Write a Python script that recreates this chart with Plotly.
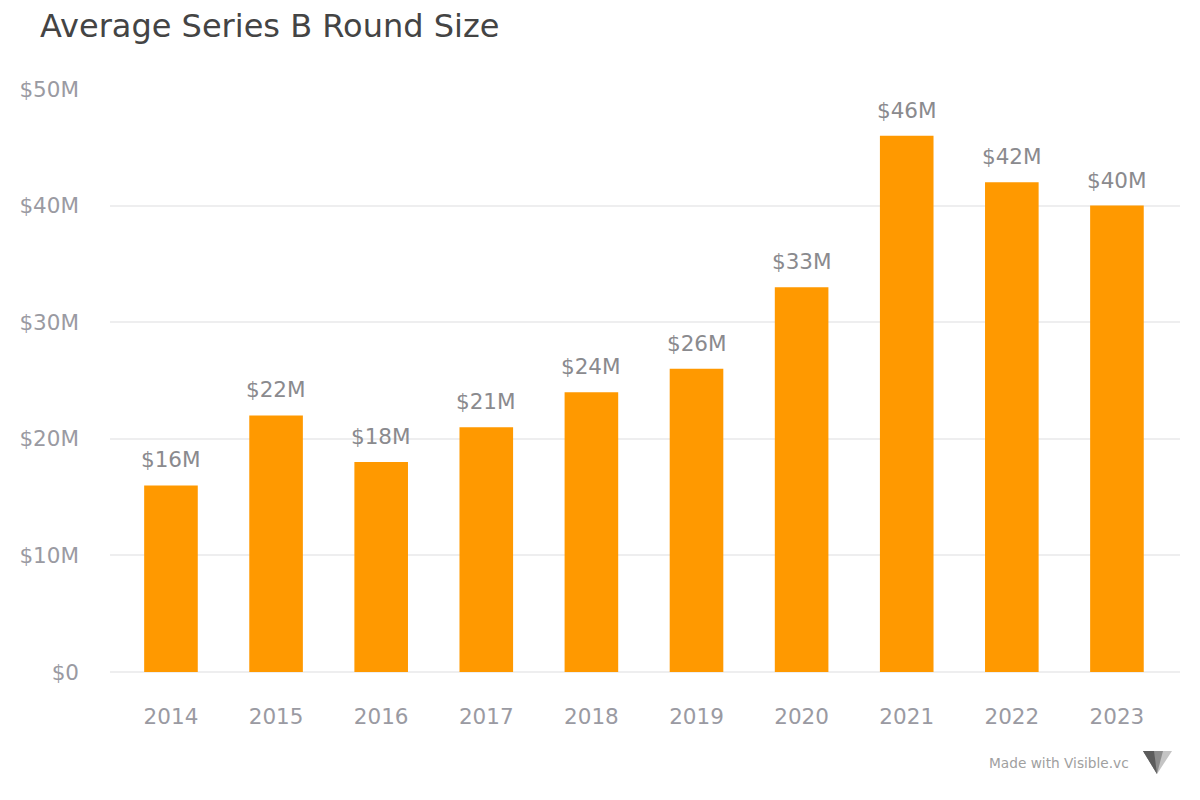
import plotly.graph_objects as go

years = ["2014", "2015", "2016", "2017", "2018", "2019", "2020", "2021", "2022", "2023"]
values = [16, 22, 18, 21, 24, 26, 33, 46, 42, 40]
ytick_vals = [0, 10, 20, 30, 40, 50]
ytick_text = ["$0", "$10M", "$20M", "$30M", "$40M", "$50M"]

FONT = "DejaVu Sans"
OFF = 8  # page body margin

W, H = 1184, 784
L, R, T, B = 110 - OFF, 20 - OFF, 89 - OFF, 128 - OFF
PW, PH = W - L - R, H - T - B

fig = go.Figure()
fig.add_trace(go.Bar(
    x=years, y=values,
    marker=dict(color="#ff9900", line=dict(width=0)),
    width=0.51,
    hoverinfo="skip",
))

# value labels; category axis positions referenced by index
for i, v in enumerate(values):
    fig.add_annotation(
        x=i, y=v, xref="x", yref="y",
        text=f"${v}M", showarrow=False,
        yanchor="bottom", yshift=11,
        font=dict(family=FONT, size=21.5, color="#8a8a8e"),
    )

def px(xs, ys):
    # screen pixel -> paper coords
    return ((xs - OFF - L) / PW, (H - B - (ys - OFF)) / PH)

fx, fy = px(1131, 763)
fig.add_annotation(
    xref="paper", yref="paper", x=fx, y=fy,
    text="Made with Visible.vc", showarrow=False,
    xanchor="right", yanchor="middle",
    font=dict(family=FONT, size=13.7, color="#a0a0a0"),
)

# logo (decorative)
x0, y0 = px(1143, 751)
x1, y1 = px(1172, 751)
xm, ym = px(1157, 774)
xa, ya = px(1163, 751)
xb, yb = px(1154, 751)
fig.add_shape(type="path", xref="paper", yref="paper",
              path=f"M {x0} {y0} L {x1} {y1} L {xm} {ym} Z",
              fillcolor="#c4c4c4", line=dict(width=0))
fig.add_shape(type="path", xref="paper", yref="paper",
              path=f"M {x0} {y0} L {xa} {ya} L {xm} {ym} Z",
              fillcolor="#8c8c8c", line=dict(width=0))
fig.add_shape(type="path", xref="paper", yref="paper",
              path=f"M {x0} {y0} L {xb} {yb} L {xm} {ym} Z",
              fillcolor="#5c5c5c", line=dict(width=0))

fig.update_layout(
    width=W, height=H,
    margin=dict(l=L, r=R, t=T, b=B, autoexpand=False),
    paper_bgcolor="white", plot_bgcolor="white",
    title=dict(text="Average Series B Round Size", x=(40 - OFF) / W, xanchor="left",
               y=1 - (26 - OFF) / H, yanchor="middle",
               font=dict(family=FONT, size=32, color="#444444")),
    showlegend=False,
    font=dict(family=FONT),
    xaxis=dict(
        type="category", range=[-0.58, len(years) - 0.4],
        showgrid=False, showline=False, zeroline=False,
        ticks="", ticklabelstandoff=29,
        tickfont=dict(family=FONT, size=21.5, color="#9a9aa2"),
        fixedrange=True,
    ),
    yaxis=dict(
        range=[0, 50], tickvals=ytick_vals, ticktext=ytick_text,
        showgrid=True, gridcolor="#eeeeef", gridwidth=1.5,
        zeroline=True, zerolinecolor="#eeeeef", zerolinewidth=1.5,
        showline=False, ticks="", ticklabelstandoff=30,
        tickfont=dict(family=FONT, size=21.5, color="#9a9aa2"),
        fixedrange=True,
    ),
)

fig.write_html("out.html")
